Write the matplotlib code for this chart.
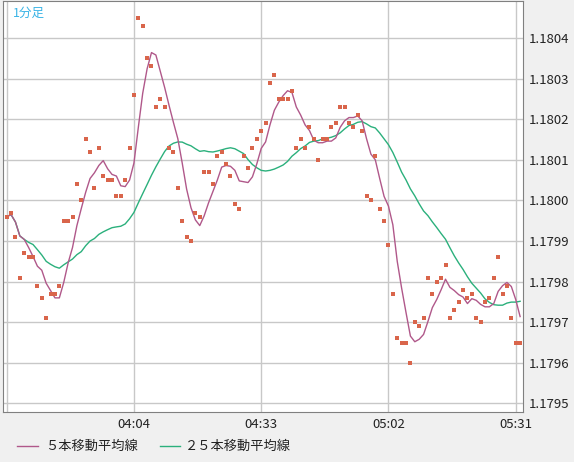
import numpy as np
import pandas as pd
import matplotlib
matplotlib.use("Agg")
import matplotlib.pyplot as plt
from matplotlib.lines import Line2D

plt.rcParams['font.family'] = ['Noto Sans CJK JP', 'DejaVu Sans']

# 1-minute closes from 03:35 to 05:32, in units of 1e-5
closes = [117996, 117997, 117991, 117981, 117987, 117986, 117986, 117979, 117976, 117971,
          117977, 117977, 117979, 117995, 117995, 117996, 118004, 118000, 118015, 118012,
          118003, 118013, 118006, 118005, 118005, 118001, 118001, 118005, 118013, 118026,
          118045, 118043, 118035, 118033, 118023, 118025, 118023, 118013, 118012, 118003,
          117995, 117991, 117990, 117997, 117996, 118007, 118007, 118004, 118011, 118012,
          118009, 118006, 117999, 117998, 118011, 118008, 118013, 118015, 118017, 118019,
          118029, 118031, 118025, 118025, 118025, 118027, 118013, 118015, 118013, 118018,
          118015, 118010, 118015, 118015, 118018, 118019, 118023, 118023, 118019, 118018,
          118021, 118017, 118001, 118000, 118011, 117998, 117995, 117989, 117977, 117966,
          117965, 117965, 117960, 117970, 117969, 117971, 117981, 117977, 117980, 117981,
          117984, 117971, 117973, 117975, 117978, 117976, 117977, 117971, 117970, 117975,
          117976, 117981, 117986, 117977, 117979, 117971, 117965, 117965]
tick_labels = ["04:04", "04:33", "05:02", "05:31"]
tick_pos = [29, 58, 87, 116]
yticks = [1.1795, 1.1796, 1.1797, 1.1798, 1.1799, 1.1800, 1.1801, 1.1802, 1.1803, 1.1804]

price = pd.Series(closes) / 1e5
ma5 = price.rolling(5, min_periods=1).mean()
ma25 = price.rolling(25, min_periods=1).mean()
x = np.arange(len(price))

fig = plt.figure(figsize=(5.74, 4.62), dpi=100, facecolor="#f0f0f0")
ax = fig.add_axes([3/574, 1 - 412/462, 520/574, 411/462])
ax.set_facecolor("white")

for t in [0] + tick_pos:
    ax.axvline(t, color="#c8c8c8", lw=1, zorder=0)
for v in yticks:
    ax.axhline(v, color="#c8c8c8", lw=1, zorder=0)

ax.plot(x, ma25, color="#2bb07c", lw=1, zorder=2)
ax.plot(x, ma5, color="#b0588a", lw=1, zorder=3)
ax.plot(x, price, "s", color="#d9654b", ms=2.2, mew=0, zorder=4)

ax.set_xlim(-0.84, 117.66)
ax.set_ylim(1.179479, 1.180491)
ax.yaxis.tick_right()
ax.set_yticks(yticks, labels=[f"{v:.4f}" for v in yticks])
ax.set_xticks(tick_pos, labels=tick_labels)
ax.tick_params(length=0, labelsize=9.5, colors="#222222", pad=4)
for s in ax.spines.values():
    s.set_color("#808080")

ax.text(0.02, 0.985, "1分足", transform=ax.transAxes, color="#3ab4e6",
        fontsize=9, va="top", ha="left")

# legend along the bottom
ly = 1 - 446/462
fig.add_artist(Line2D([17/574, 38/574], [ly, ly], color="#b0588a", lw=1))
fig.text(45/574, ly, "５本移動平均線", fontsize=9.5, va="center", color="#222222")
fig.add_artist(Line2D([160/574, 180/574], [ly, ly], color="#2bb07c", lw=1))
fig.text(185/574, ly, "２５本移動平均線", fontsize=9.5, va="center", color="#222222")

fig.savefig("out.png", dpi=100, facecolor=fig.get_facecolor())
